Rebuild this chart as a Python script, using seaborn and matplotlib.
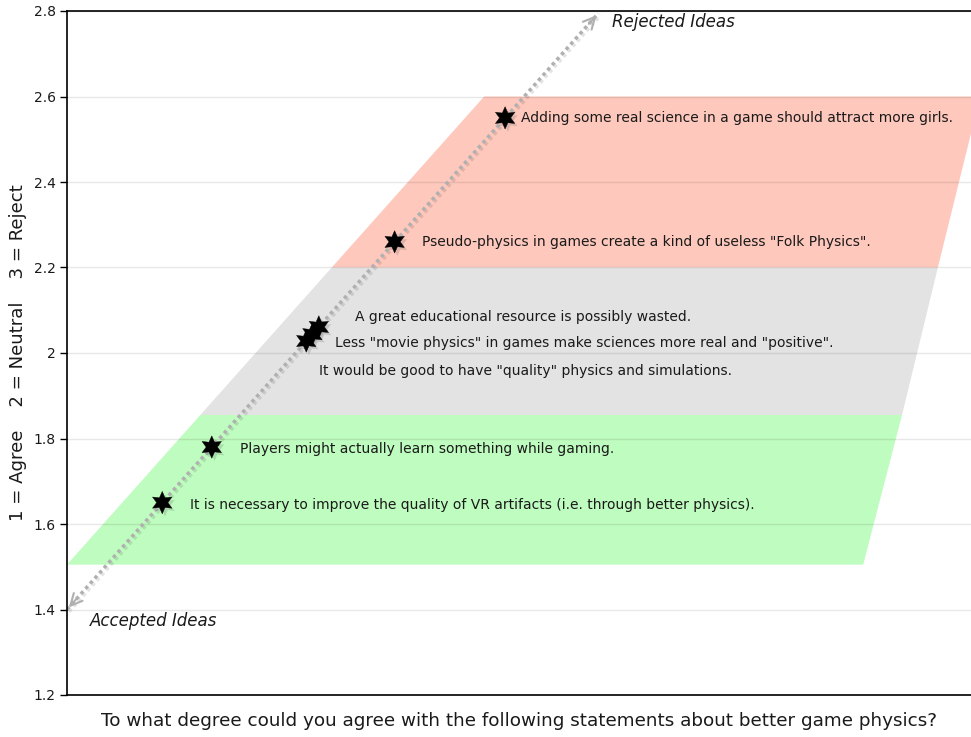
import matplotlib
matplotlib.use("Agg")
import matplotlib.pyplot as plt
import matplotlib.patheffects as pe
import seaborn as sns
import pandas as pd

# Scores (the x position along the diagonal equals the score)
scores = [2.55, 2.26, 2.061, 2.044, 2.028, 1.78, 1.65]
statements = [
    "Adding some real science in a game should attract more girls.",
    "Pseudo-physics in games create a kind of useless \"Folk Physics\".",
    "A great educational resource is possibly wasted.",
    "Less \"movie physics\" in games make sciences more real and \"positive\".",
    "It would be good to have \"quality\" physics and simulations.",
    "Players might actually learn something while gaming.",
    "It is necessary to improve the quality of VR artifacts (i.e. through better physics).",
]
label_x = [2.592, 2.332, 2.156, 2.104, 2.062, 1.854, 1.723]
label_y = [2.55, 2.26, 2.084, 2.023, 1.958, 1.776, 1.644]

# Bands: y bounds and the x of the right edge at each bound
band_y = [1.505, 1.855, 2.2, 2.6]
band_right_x = [3.49, 3.592, 3.686, 3.797]
band_shift = 0.105  # left edge runs parallel to the diagonal
band_colors = ["#bffcbf", "#e3e3e3", "#fec8bc"]

yticks = [1.2, 1.4, 1.6, 1.8, 2.0, 2.2, 2.4, 2.6, 2.8]
ytick_labels = ["1.2", "1.4", "1.6", "1.8", "2", "2.2", "2.4", "2.6", "2.8"]

arrow_ends = [1.4, 2.795]

df = pd.DataFrame({"x": scores, "y": scores})

sns.set_theme(style="white")
plt.rcParams["font.family"] = ["DejaVu Sans"]

fig = plt.figure(figsize=(9.71, 7.37), dpi=100)
ax = fig.add_axes([67 / 971, 1 - 695 / 737, 1 - 67 / 971, (695 - 11) / 737])

# shaded bands
for i in range(3):
    y0, y1 = band_y[i], band_y[i + 1]
    xs = [y0 - band_shift, band_right_x[i], band_right_x[i + 1], y1 - band_shift]
    ys = [y0, y0, y1, y1]
    ax.fill(xs, ys, color=band_colors[i], lw=0, zorder=0.2)

# dotted diagonal with arrow heads
shadow = [pe.SimpleLineShadow(offset=(1.5, -1.5), alpha=0.12), pe.Normal()]
ax.plot(arrow_ends, arrow_ends, color="#b0b0b0", lw=2.5, ls=(0, (1, 1)),
        zorder=2, path_effects=shadow, solid_capstyle="butt")
for end, step in [(arrow_ends[1], -0.03), (arrow_ends[0], 0.03)]:
    ax.annotate("", xy=(end, end), xytext=(end + step, end + step),
                arrowprops=dict(arrowstyle="->,head_length=0.7,head_width=0.35",
                                color="#b0b0b0", lw=1.5), zorder=2)

# stars
sns.scatterplot(data=df, x="x", y="y", marker=(6, 1, 0), s=260, color="black",
                edgecolor="black", linewidth=0.3, zorder=3, ax=ax,
                path_effects=[pe.SimplePatchShadow(offset=(2, -2), alpha=0.2,
                                                   shadow_rgbFace="#555555"),
                              pe.Normal()])

for t, lx, ly in zip(statements, label_x, label_y):
    ax.text(lx, ly, t, fontsize=10, color="#1a1a1a", va="center", ha="left", zorder=4)

ax.text(2.83, 2.774, "Rejected Ideas", fontsize=12, style="italic",
        color="#1a1a1a", va="center", ha="left")
ax.text(1.46, 1.373, "Accepted Ideas", fontsize=12, style="italic",
        color="#1a1a1a", va="center", ha="left")

ax.set_xlim(1.4, 1.4 + 904 * 0.002625)
ax.set_ylim(1.2, 2.8)
ax.set_yticks(yticks)
ax.set_yticklabels(ytick_labels, fontsize=10, color="#1a1a1a")
ax.set_xticks([])
ax.tick_params(axis="y", left=True, length=5, width=1, color="black", pad=3)
ax.yaxis.grid(True, color="black", alpha=0.09, lw=1)
ax.set_axisbelow(True)

for side in ["left", "bottom", "top"]:
    ax.spines[side].set_color("black")
    ax.spines[side].set_linewidth(1.2)
ax.spines["right"].set_visible(False)

ax.set_xlabel("To what degree could you agree with the following statements about better game physics?",
              fontsize=13.2, color="#1a1a1a", labelpad=12)
ax.set_ylabel("1 = Agree    2 = Neutral    3 = Reject", fontsize=13.1,
              color="#1a1a1a")
ax.yaxis.set_label_coords(-40 / 904, 0.5)

fig.savefig("out.png", dpi=100)
